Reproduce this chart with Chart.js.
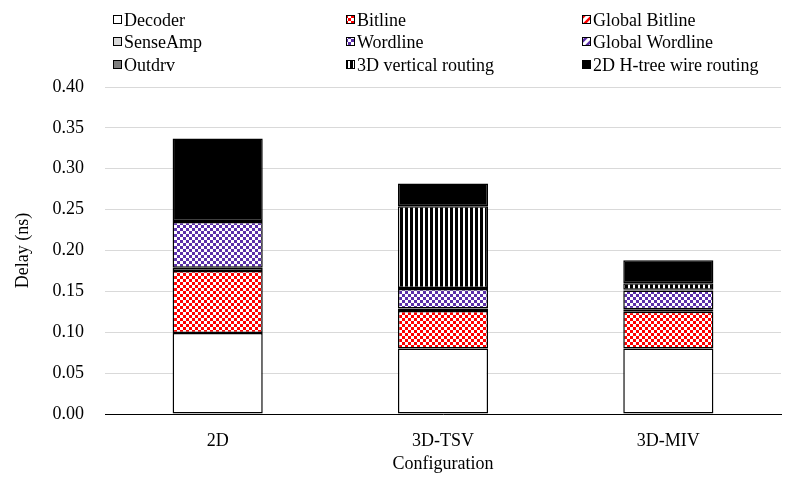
<!DOCTYPE html>
<html>
<head>
<meta charset="utf-8">
<script src="https://cdn.jsdelivr.net/npm/chart.js@4/dist/chart.umd.min.js"></script>
<style>
html,body{margin:0;padding:0;background:#fff;}
#wrap{width:805px;height:487px;position:relative;}
</style>
</head>
<body>
<div id="wrap"><canvas id="c" width="805" height="487"></canvas></div>
<script>
const categories = ["2D", "3D-TSV", "3D-MIV"];
const seriesNames = ["Decoder", "Bitline", "Global Bitline", "SenseAmp", "Wordline", "Global Wordline", "Outdrv", "3D vertical routing", "2D H-tree wire routing"];
const decoder        = [0.099, 0.080, 0.080];
const bitline        = [0.076, 0.046, 0.045];
const globalBitline  = [0, 0, 0];
const senseAmp       = [0.004, 0.003, 0.003];
const wordline       = [0.056, 0.024, 0.023];
const globalWordline = [0, 0, 0];
const outdrv         = [0.001, 0.001, 0.001];
const vertical3D     = [0, 0.100, 0.008];
const htree2D        = [0.101, 0.028, 0.028];
const yTicks = [0, 0.05, 0.10, 0.15, 0.20, 0.25, 0.30, 0.35, 0.40];

const seriesValues = [decoder, bitline, globalBitline, senseAmp, wordline, globalWordline, outdrv, vertical3D, htree2D];

function makePattern(w, h, draw) {
  const t = document.createElement('canvas');
  t.width = w; t.height = h;
  const g = t.getContext('2d');
  draw(g, w, h);
  return document.createElement('canvas').getContext('2d').createPattern(t, 'repeat');
}
function checker(col, s) {
  return makePattern(2*s, 2*s, (g) => {
    g.fillStyle = '#fff'; g.fillRect(0,0,2*s,2*s);
    g.fillStyle = col; g.fillRect(0,0,s,s); g.fillRect(s,s,s,s);
  });
}
function diag(col) {
  return makePattern(8, 8, (g) => {
    g.fillStyle = '#fff'; g.fillRect(0,0,8,8);
    g.strokeStyle = col; g.lineWidth = 2.5;
    g.beginPath();
    g.moveTo(-2,10); g.lineTo(10,-2);
    g.moveTo(-2,2); g.lineTo(2,-2);
    g.moveTo(6,10); g.lineTo(10,6);
    g.stroke();
  });
}
const vstripes = makePattern(5, 4, (g) => {
  g.fillStyle = '#fff'; g.fillRect(0,0,5,4);
  g.fillStyle = '#000'; g.fillRect(0,0,3,4);
});
const RED = '#FF0000', PURPLE = '#5B2FA8';
const fills = ['#FFFFFF', checker(RED, 3), diag(RED), '#D9D9D9', checker(PURPLE, 3), diag(PURPLE), '#7F7F7F', vstripes, '#000000'];

const datasets = seriesNames.map((n, i) => ({
  label: n,
  data: seriesValues[i],
  backgroundColor: fills[i],
  borderColor: '#000',
  borderWidth: (c) => (c.raw ? 1.5 : 0),
  borderSkipped: false,
  barPercentage: 0.4,
  categoryPercentage: 1.0
}));

const FONT = "'Liberation Serif', 'Times New Roman', serif";

const legendPlugin = {
  id: 'gridLegend',
  afterDraw(chart) {
    const ctx = chart.ctx;
    const colX = [113, 346, 582];
    const rowY = [20, 42, 65];
    ctx.save();
    ctx.font = "18px " + FONT;
    ctx.textBaseline = 'middle';
    ctx.textAlign = 'left';
    chart.data.datasets.forEach((ds, i) => {
      const x = colX[i % 3], y = rowY[Math.floor(i / 3)];
      ctx.fillStyle = ds.backgroundColor;
      ctx.fillRect(x, y - 5, 9, 9);
      ctx.strokeStyle = '#000';
      ctx.lineWidth = 1;
      ctx.strokeRect(x + 0.5, y - 4.5, 8, 8);
      ctx.fillStyle = '#000';
      ctx.fillText(ds.label, x + 11, y + 1);
    });
    ctx.restore();
  }
};

new Chart(document.getElementById('c'), {
  type: 'bar',
  data: { labels: categories, datasets },
  plugins: [legendPlugin],
  options: {
    responsive: false,
    animation: false,
    layout: { padding: { top: 87, right: 24, left: 8, bottom: 12 } },
    plugins: { legend: { display: false }, tooltip: { enabled: false } },
    scales: {
      x: {
        stacked: true,
        grid: { display: false },
        border: { display: true, color: '#000', width: 1 },
        ticks: { color: '#000', font: { family: FONT, size: 18 }, padding: 8 },
        title: { display: true, text: 'Configuration', color: '#000', font: { family: FONT, size: 18 }, padding: { top: 2, bottom: 0 } },
        afterFit(s) { s.height = 61; }
      },
      y: {
        stacked: true,
        min: 0, max: 0.4,
        afterBuildTicks(s) { s.ticks = yTicks.map(v => ({ value: v })); },
        grid: { color: '#D9D9D9', drawTicks: false },
        border: { display: false },
        ticks: { color: '#000', font: { family: FONT, size: 18 }, padding: 21, callback: v => v.toFixed(2) },
        title: { display: true, text: 'Delay (ns)', color: '#000', font: { family: FONT, size: 18 } },
        afterFit(s) { s.width = 97; }
      }
    }
  }
});
</script>
</body>
</html>
